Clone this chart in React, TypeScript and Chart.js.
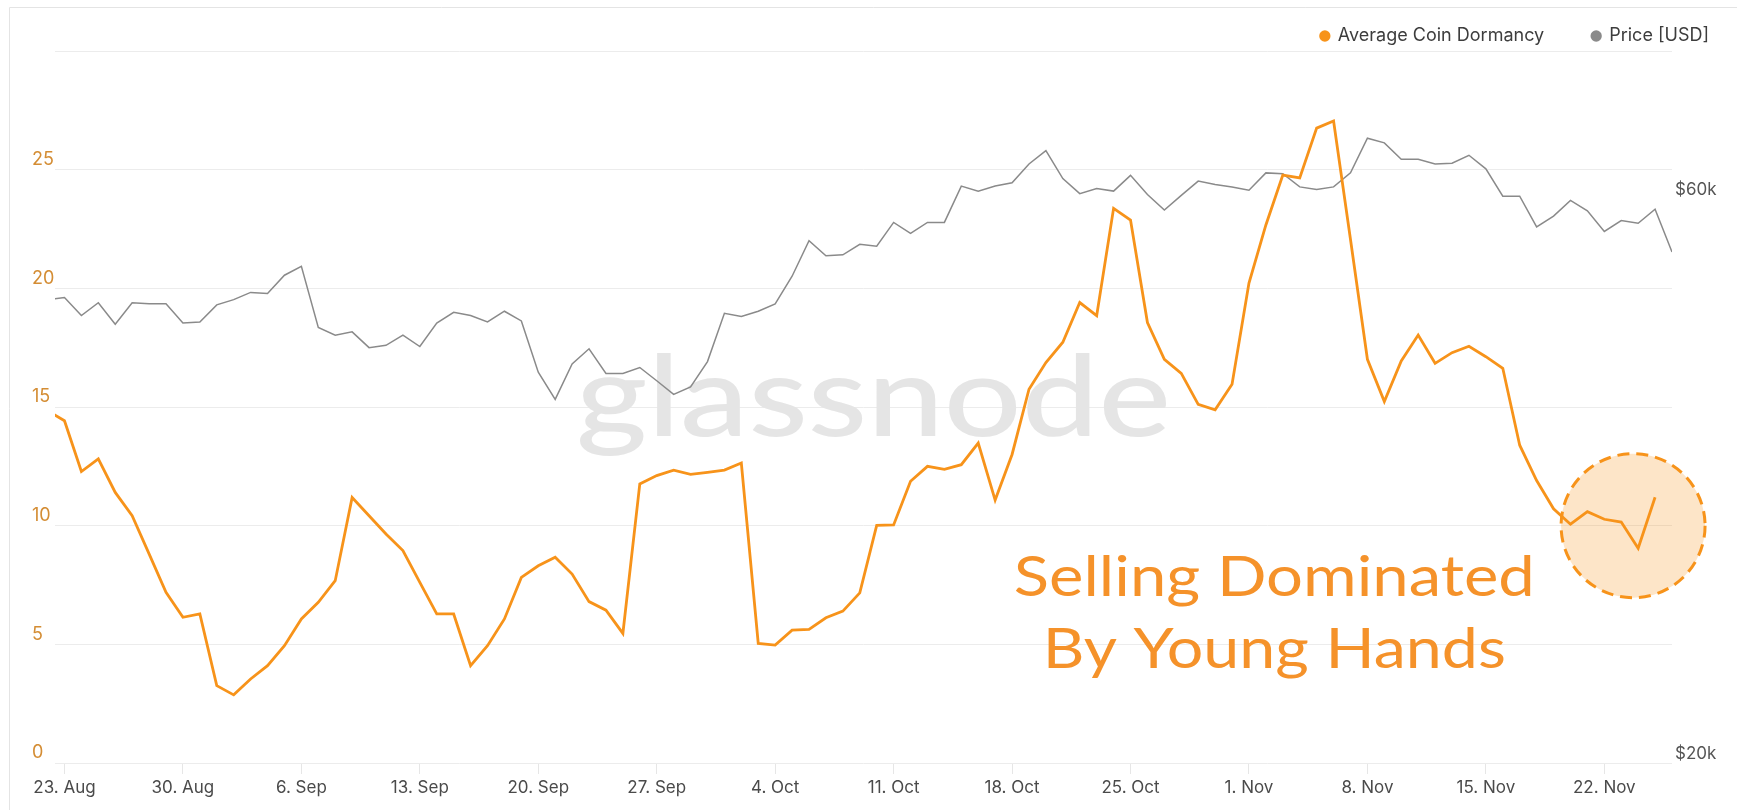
import React, { useEffect, useRef } from 'react';
import { Chart, registerables } from 'chart.js';

Chart.register(...registerables);

// Daily series, first point = 22 Aug 2021 (one day before the first tick), one value per day
const FIRST_DAY_OFFSET = -1; // 22 Aug relative to 23 Aug (tick 0)

const tickLabels = ['23. Aug', '30. Aug', '6. Sep', '13. Sep', '20. Sep', '27. Sep', '4. Oct', '11. Oct', '18. Oct', '25. Oct', '1. Nov', '8. Nov', '15. Nov', '22. Nov'];

// Average Coin Dormancy: 22 Aug .. 25 Nov 2021
const dormancy = [
  14.85, 14.42, 12.28, 12.81, 11.4, 10.42, 8.81, 7.19, 6.14, 6.28,
  3.26, 2.87, 3.54, 4.1, 4.94, 6.07, 6.77, 7.68, 11.19, 10.42,
  9.65, 8.95, 7.61, 6.28, 6.28, 4.1, 4.94, 6.07, 7.82, 8.31,
  8.67, 7.96, 6.8, 6.44, 5.46, 11.76, 12.11, 12.34, 12.16, 12.25,
  12.34, 12.64, 5.04, 4.97, 5.6, 5.63, 6.12, 6.4, 7.17, 10.01,
  10.03, 11.87, 12.5, 12.37, 12.57, 13.48, 11.08, 13.0, 15.75, 16.87,
  17.73, 19.4, 18.85, 23.37, 22.88, 18.56, 17.01, 16.42, 15.11, 14.88,
  15.96, 20.22, 22.67, 24.77, 24.65, 26.75, 27.05, 22.06, 17.01, 15.23,
  16.94, 18.03, 16.84, 17.29, 17.56, 17.12, 16.63, 13.39, 11.9, 10.71,
  10.06, 10.59, 10.27, 10.15, 9.05, 11.2,
];

// Price [USD]: 22 Aug .. 26 Nov 2021
const price = [
  49300, 49500, 47800, 49000, 47000, 49000, 48900, 48900, 47100, 47200,
  48800, 49300, 50000, 49900, 51700, 52600, 46700, 46000, 46300, 44900,
  45100, 46000, 45000, 47100, 48100, 47800, 47200, 48200, 47300, 42800,
  40600, 43500, 44800, 42700, 42700, 43200, 42100, 41000, 41600, 43700,
  48000, 47700, 48200, 48900, 51600, 55300, 53700, 53800, 54900, 54700,
  57300, 56100, 57300, 57300, 61500, 60900, 61500, 61900, 64200, 65900,
  62400, 60600, 61200, 60900, 62800, 60500, 58700, 60400, 62100, 61700,
  61400, 61000, 63100, 63000, 61400, 61100, 61400, 63100, 67500, 66900,
  64800, 64800, 64200, 64300, 65300, 63600, 60300, 60300, 56800, 58000,
  59800, 58600, 56300, 57500, 57200, 58800, 54100,
];

const leftTicks = [0, 5, 10, 15, 20, 25, 30];
const rightTicks = [20000, 60000];

const ORANGE = '#f7931a';
const GRAY = '#8a8a8a';

function fitText(ctx: CanvasRenderingContext2D, text: string, cx: number, y: number, targetW: number) {
  const m = ctx.measureText(text).width;
  const s = targetW / m;
  ctx.save();
  ctx.translate(cx, y);
  ctx.scale(s, 1);
  ctx.textAlign = 'center';
  ctx.fillText(text, 0, 0);
  ctx.restore();
}

const decorPlugin = {
  id: 'decor',
  beforeDraw(chart: any) {
    const { ctx, width, height } = chart;
    ctx.save();
    ctx.fillStyle = '#ffffff';
    ctx.fillRect(0, 0, width, height);
    ctx.strokeStyle = '#e4e4e4';
    ctx.lineWidth = 1;
    ctx.beginPath();
    ctx.moveTo(9.5, height);
    ctx.lineTo(9.5, 7.5);
    ctx.lineTo(width, 7.5);
    ctx.stroke();
    ctx.restore();
  },
  afterLayout(chart: any) {
    const lg = chart.legend;
    if (lg) {
      lg.top = -21;
      lg.bottom = 60;
      lg.right = 1757;
    }
  },
  beforeDatasetsDraw(chart: any) {
    const { ctx } = chart;
    const xs = chart.scales.x;
    const ys = chart.scales.y;
    // watermark
    ctx.save();
    ctx.fillStyle = '#e5e5e5';
    ctx.font = '500 112px Lato';
    ctx.textBaseline = 'alphabetic';
    const wmW = ctx.measureText('glassnode').width;
    ctx.translate(576, 436);
    ctx.scale(595 / wmW, 1);
    ctx.fillText('glassnode', 0, 0);
    ctx.restore();
    // highlight circle
    const cx = xs.getPixelForValue(92.7);
    const cy = ys.getPixelForValue(10);
    ctx.save();
    ctx.beginPath();
    ctx.arc(cx, cy, 72, 0, Math.PI * 2);
    ctx.fillStyle = 'rgba(247,147,26,0.24)';
    ctx.fill();
    ctx.setLineDash([12, 7]);
    ctx.lineWidth = 3;
    ctx.strokeStyle = ORANGE;
    ctx.stroke();
    ctx.restore();
  },
  afterDatasetsDraw(chart: any) {
    const { ctx } = chart;
    const xs = chart.scales.x;
    const ys = chart.scales.y;
    const cx = xs.getPixelForValue(71.5);
    ctx.save();
    ctx.fillStyle = '#f5922a';
    ctx.font = '400 56px Lato';
    ctx.textBaseline = 'alphabetic';
    fitText(ctx, 'Selling Dominated', cx, ys.getPixelForValue(7.02), 521);
    fitText(ctx, 'By Young Hands', cx, ys.getPixelForValue(4.02), 463);
    ctx.restore();
  },
};

export default function App() {
  const ref = useRef<HTMLCanvasElement | null>(null);

  useEffect(() => {
    if (!ref.current) return;
    const dormData = dormancy.map((v, i) => ({ x: i + FIRST_DAY_OFFSET, y: v }));
    const priceData = price.map((v, i) => ({ x: i + FIRST_DAY_OFFSET, y: v }));

    const chart = new Chart(ref.current, {
      type: 'line',
      data: {
        datasets: [
          {
            label: 'Average Coin Dormancy',
            data: dormData,
            borderColor: ORANGE,
            backgroundColor: ORANGE,
            borderWidth: 2.8,
            pointRadius: 0,
            tension: 0,
            yAxisID: 'y',
          },
          {
            label: 'Price [USD]',
            data: priceData,
            borderColor: GRAY,
            backgroundColor: GRAY,
            borderWidth: 1.5,
            pointRadius: 0,
            tension: 0,
            yAxisID: 'y1',
          },
        ],
      },
      plugins: [decorPlugin],
      options: {
        responsive: false,
        animation: false,
        devicePixelRatio: 1,
        layout: { padding: { left: 32, right: 0, top: 41, bottom: 0 } },
        font: { family: 'Inter' },
        plugins: {
          tooltip: { enabled: false },
          legend: {
            position: 'top',
            align: 'end',
            maxHeight: 10,
            labels: {
              usePointStyle: true,
              pointStyle: 'circle',
              boxWidth: 8,
              boxHeight: 8,
              padding: 48,
              color: '#3d3d3d',
              font: { family: 'Inter', size: 18 },
              generateLabels: (c: any) =>
                Chart.defaults.plugins.legend.labels.generateLabels(c).map((l: any) => ({ ...l, lineWidth: 0 })),
            },
          },
        },
        scales: {
          x: {
            type: 'linear',
            min: -0.56,
            max: 95,
            afterFit: (s: any) => { s.height = 47; },
            afterBuildTicks: (s: any) => {
              s.ticks = tickLabels.map((_, i) => ({ value: i * 7 }));
            },
            ticks: {
              callback: (v: any) => tickLabels[Math.round(Number(v) / 7)] ?? '',
              color: '#4a4a4a',
              font: { family: 'Inter', size: 17 },
              padding: 4,
              maxRotation: 0,
              autoSkip: false,
            },
            grid: { drawOnChartArea: false, drawTicks: true, tickLength: 11, color: '#e6e6e6' },
            border: { display: false },
          },
          y: {
            type: 'linear',
            position: 'left',
            min: 0,
            max: 30,
            afterFit: (s: any) => { s.width = 23; },
            afterBuildTicks: (s: any) => {
              s.ticks = leftTicks.map((v) => ({ value: v }));
            },
            ticks: {
              callback: (v: any) => (Number(v) === 30 ? '' : String(v)),
              color: '#d48d34',
              font: { family: 'Inter', size: 18 },
              crossAlign: 'far',
              labelOffset: -10,
            },
            grid: { color: '#ececec', drawTicks: false },
            border: { display: false },
          },
          y1: {
            type: 'logarithmic',
            position: 'right',
            min: 20000,
            max: 80000,
            afterFit: (s: any) => { s.width = 65; },
            afterBuildTicks: (s: any) => {
              s.ticks = rightTicks.map((v) => ({ value: v }));
            },
            ticks: {
              callback: (v: any) => '$' + Math.round(Number(v) / 1000) + 'k',
              color: '#555555',
              font: { family: 'Inter', size: 17 },
              padding: 3,
              labelOffset: -9,
              crossAlign: 'near',
            },
            grid: { drawOnChartArea: false, drawTicks: false },
            border: { display: false },
          },
        },
      } as any,
    });
    return () => chart.destroy();
  }, []);

  return (
    <div style={{ position: 'fixed', left: 0, top: 0, width: 1737, height: 810, overflow: 'hidden', background: '#fff' }}>
      <canvas ref={ref} width={1737} height={810} style={{ display: 'block' }} />
    </div>
  );
}
